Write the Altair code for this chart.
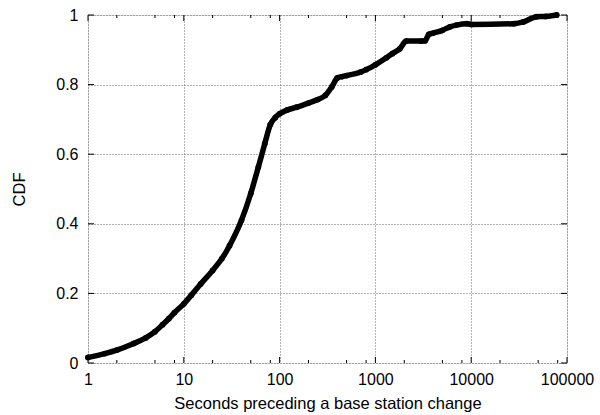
import altair as alt
import pandas as pd

# CDF of the time (seconds) that precedes a base station change
seconds = [1, 1.5, 2, 3, 4, 5, 6, 7, 8, 10, 12, 15, 20, 25, 30, 40, 50, 60, 70,
           80, 90, 100, 120, 150, 200, 250, 300, 350, 400, 450, 500, 700, 800,
           1000, 1300, 1500, 1800, 2100, 3000, 3300, 3600, 4000, 5000, 6000,
           7000, 9000, 10000, 28000, 35000, 48000, 60000, 78000]
cdf = [0.016, 0.027, 0.037, 0.056, 0.072, 0.090, 0.110, 0.128, 0.145, 0.170,
       0.195, 0.227, 0.266, 0.300, 0.337, 0.410, 0.487, 0.563, 0.630,
       0.685, 0.705, 0.716, 0.727, 0.735, 0.747, 0.757, 0.769, 0.793, 0.819,
       0.823, 0.826, 0.836, 0.843, 0.857, 0.877, 0.889, 0.903, 0.925, 0.925,
       0.926, 0.944, 0.948, 0.956, 0.966, 0.971, 0.975, 0.973, 0.975, 0.980,
       0.995, 0.996, 1.000]

x_major = [1, 10, 100, 1000, 10000, 100000]
x_minor = [m * d for d in [1, 10, 100, 1000, 10000] for m in (2, 5, 8)]
y_major = [0, 0.2, 0.4, 0.6, 0.8, 1.0]

W, H = 479, 348
FONT = "Liberation Sans"

df = pd.DataFrame({"x": seconds, "y": cdf})
xmaj = pd.DataFrame({"x": x_major})
xmin = pd.DataFrame({"x": x_minor})
ymaj = pd.DataFrame({"y": y_major})

xs = alt.Scale(type="log", domain=[1, 100000], nice=False)
ys = alt.Scale(domain=[0, 1], nice=False)

grid = dict(grid=True, gridColor="#666666", gridDash=[1, 2], gridWidth=1,
            ticks=False, domain=False, labelFont=FONT, labelFontSize=16,
            labelColor="black", labelFlush=False, labelBound=False,
            labelOverlap=False, titleFont=FONT, titleFontSize=16.5,
            titleFontWeight="normal", titleColor="black")

curve = alt.Chart(df).mark_line(
    color="black", strokeWidth=5.5, strokeCap="round", strokeJoin="round",
    interpolate="monotone",
).encode(
    x=alt.X("x:Q", scale=xs, axis=alt.Axis(
        values=x_major, format="d", labelPadding=8, titlePadding=8,
        title="Seconds preceding a base station change", **grid)),
    y=alt.Y("y:Q", scale=ys, axis=alt.Axis(
        values=y_major, format="~g", labelPadding=10, titlePadding=28,
        title="CDF", **grid)),
)
dots = alt.Chart(df).mark_circle(color="black", size=34, opacity=1).encode(
    x=alt.X("x:Q", scale=xs), y=alt.Y("y:Q", scale=ys))

def xticks(data, length):
    bottom = alt.Chart(data).mark_rule(color="black", strokeWidth=1).encode(
        x=alt.X("x:Q", scale=xs), y=alt.value(H), y2=alt.value(H - length))
    top = alt.Chart(data).mark_rule(color="black", strokeWidth=1).encode(
        x=alt.X("x:Q", scale=xs), y=alt.value(0), y2=alt.value(length))
    return [bottom, top]

yleft = alt.Chart(ymaj).mark_rule(color="black", strokeWidth=1).encode(
    y=alt.Y("y:Q", scale=ys), x=alt.value(0), x2=alt.value(6))
yright = alt.Chart(ymaj).mark_rule(color="black", strokeWidth=1).encode(
    y=alt.Y("y:Q", scale=ys), x=alt.value(W), x2=alt.value(W - 6))

chart = alt.layer(
    *xticks(xmaj, 6), *xticks(xmin, 3), yleft, yright, curve, dots
).properties(
    width=W, height=H,
    autosize=alt.AutoSizeParams(type="none"),
    padding={"left": 88, "top": 15, "right": 33, "bottom": 52},
).configure_view(
    stroke="black", strokeWidth=1.2
).configure(background="white")

chart.save("out.html", embed_options={"renderer": "svg", "actions": False})
